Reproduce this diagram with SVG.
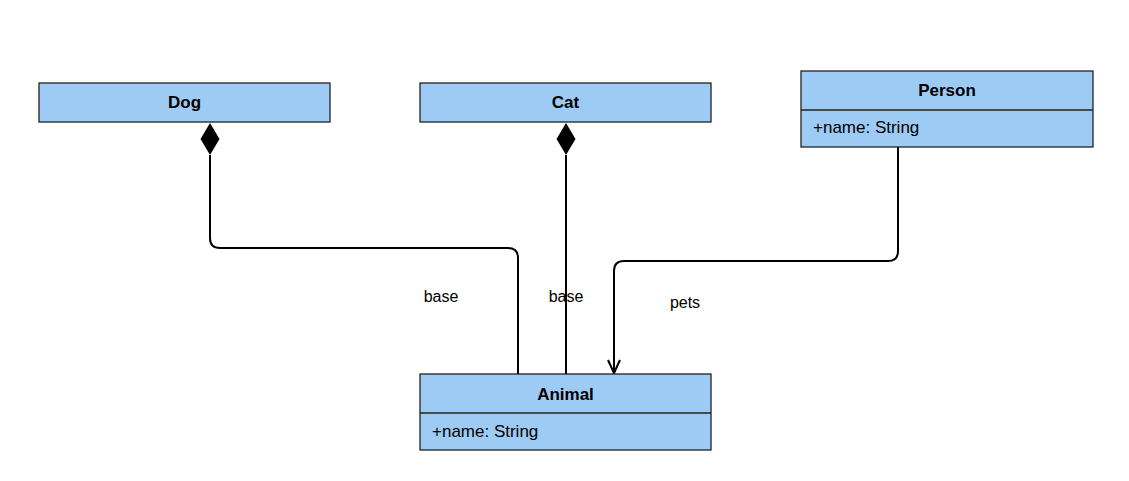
<svg xmlns="http://www.w3.org/2000/svg" width="1129" height="481" viewBox="0 0 1129 481">
<style>
.box{fill:#9ecbf4;stroke:#222;stroke-width:1.3}
.t{font-family:"Liberation Sans",Arial,sans-serif;font-size:17px;fill:#000}
.b{font-weight:bold;text-anchor:middle}
.lbl{font-family:"Liberation Sans",Arial,sans-serif;font-size:16px;fill:#000;text-anchor:middle}
.edge{fill:none;stroke:#000;stroke-width:2}
</style>
<rect width="1129" height="481" fill="#fff"/>
<g id="connectors">
<path class="edge" d="M210 155 V238 Q210 248 220 248 H508 Q518 248 518 258 V374"/>
<path d="M210 123 L219.5 139 L210 155 L200.5 139 Z" fill="#000"/>
<path class="edge" d="M566 155 V374"/>
<path d="M566 123 L575.5 139 L566 155 L556.5 139 Z" fill="#000"/>
<path class="edge" d="M898 147 V251 Q898 261 888 261 H624 Q614 261 614 271 V373"/>
<path class="edge" d="M608 360 L614 373 L620 360"/>
<text class="lbl" x="441" y="302">base</text>
<text class="lbl" x="566" y="302">base</text>
<text class="lbl" x="685" y="308">pets</text>
</g>
<g id="Dog">
<rect class="box" x="39" y="83" width="291" height="39"/>
<text class="t b" x="184.5" y="108">Dog</text>
</g>
<g id="Cat">
<rect class="box" x="420" y="83" width="291" height="39"/>
<text class="t b" x="565.5" y="108">Cat</text>
</g>
<g id="Person">
<rect class="box" x="801" y="71" width="292" height="76"/>
<line x1="801" y1="110" x2="1093" y2="110" stroke="#222" stroke-width="1.3"/>
<text class="t b" x="947" y="96">Person</text>
<text class="t" x="813" y="133">+name: String</text>
</g>
<g id="Animal">
<rect class="box" x="420" y="374" width="291" height="76"/>
<line x1="420" y1="413" x2="711" y2="413" stroke="#222" stroke-width="1.3"/>
<text class="t b" x="565.5" y="400">Animal</text>
<text class="t" x="432" y="437">+name: String</text>
</g>
</svg>
